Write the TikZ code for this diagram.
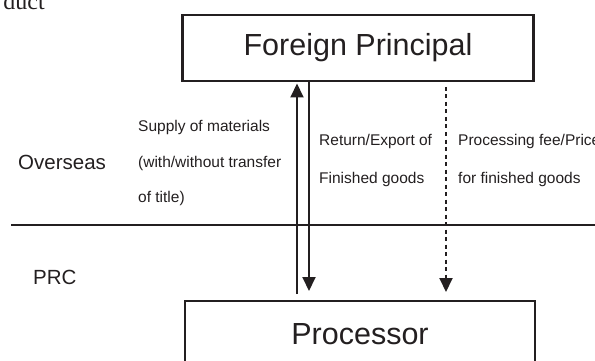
\documentclass[tikz,border=0pt]{standalone}
\usepackage{fontspec}
\setmainfont{Liberation Sans}
\newfontfamily\serifface{Liberation Serif}
\usetikzlibrary{arrows.meta}
\definecolor{ink}{HTML}{231F20}
\tikzset{
  boxnode/.style={draw=ink, line width=2.6pt, minimum width=350pt, minimum height=66pt, inner sep=0pt, text=ink, font=\fontsize{30.5}{36}\selectfont},
  arr/.style={draw=ink, line width=2pt, -{Triangle[length=14pt,width=13pt]}},
  dasharr/.style={arr, dash pattern=on 4pt off 3.5pt},
  small/.style={anchor=west, inner sep=0pt, text=ink, align=left, font=\fontsize{15.5}{35.5}\selectfont},
  region/.style={anchor=west, inner sep=0pt, text=ink, font=\fontsize{20.5}{24}\selectfont},
}
\begin{document}
\begin{tikzpicture}[x=1pt,y=-1pt]
\useasboundingbox (0,0) rectangle (595,361);
\clip (0,0) rectangle (595,361);
% cut-off text at top left
\node[anchor=base east, inner sep=0pt, text=ink, font=\serifface\fontsize{24}{28}\selectfont] (dt) at (45,10) {duct};
% boxes
\node[boxnode, minimum width=351pt] (fp) at (358,48) {Foreign Principal};
\node[boxnode] (pr) at (360,334) {Processor};
% divider
\coordinate (L) at (11,225);
\coordinate (R) at (596,225);
\draw[ink, line width=2.4pt] (L) -- (R);
% arrows
\coordinate (u0) at (297,294);
\coordinate (d1) at (309,291);
\coordinate (p0) at (446,87);
\coordinate (p1) at (446,292);
\draw[arr, shorten >=1.2pt] (u0) -- (u0 |- fp.south);
\draw[arr] (d1 |- fp.south) -- (d1);
\draw[dasharr] (p0) -- (p1);
% labels
\node[region] (ov) at (18,162) {Overseas};
\node[region] (prc) at (33,277) {PRC};
\node[small] (sup) at (138,163) {Supply of materials\\(with/without transfer\\of title)};
\node[small, font=\fontsize{15.5}{38}\selectfont] (ret) at (319,160) {Return/Export of\\Finished goods};
\node[small, font=\fontsize{15.5}{38}\selectfont] (fee) at (458,160) {Processing fee/Price\\for finished goods};
\end{tikzpicture}
\end{document}
